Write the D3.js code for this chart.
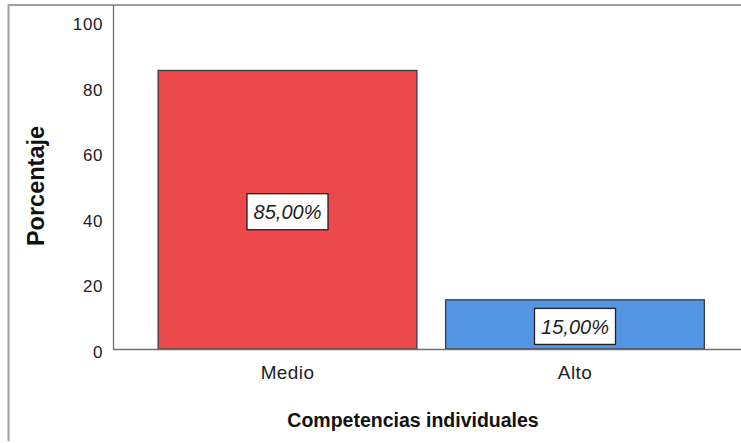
<!DOCTYPE html>
<html>
<head>
<meta charset="utf-8">
<script src="https://cdn.jsdelivr.net/npm/d3@7"></script>
<style>
  html, body { margin: 0; padding: 0; background: #fff; }
  svg { display: block; font-family: "Liberation Sans", Arial, sans-serif; }
</style>
</head>
<body>
<svg id="chart" width="741" height="443"></svg>
<script>
const categories = ["Medio", "Alto"];
const values = [85, 15];
const labels = ["85,00%", "15,00%"];
const colors = ["#EC494C", "#5394E3"];
const yTicks = [0, 20, 40, 60, 80, 100];
const xTitle = "Competencias individuales";
const yTitle = "Porcentaje";

const svg = d3.select("#chart");
const W = 741, H = 443;
const x0 = 113, yBase = 349, yTop = 21.3;
const FONT = "Liberation Sans, Arial, sans-serif";

// outer frame (top and left)
svg.append("line").attr("x1", 8.5).attr("x2", W).attr("y1", 5).attr("y2", 5)
  .attr("stroke", "#a0a0a0").attr("stroke-width", 2);
svg.append("line").attr("x1", 8.5).attr("x2", 8.5).attr("y1", 4).attr("y2", 441)
  .attr("stroke", "#a0a0a0").attr("stroke-width", 2);

const x = d3.scaleBand().domain(categories).range([143.75, 718.75])
  .paddingInner(0.1).paddingOuter(0.05);
const y = d3.scaleLinear().domain([0, 100]).range([yBase, yTop]);

// bars
svg.selectAll("rect.bar").data(categories).enter().append("rect")
  .attr("class", "bar")
  .attr("x", d => x(d))
  .attr("width", x.bandwidth())
  .attr("y", (d, i) => y(values[i]))
  .attr("height", (d, i) => y(0) - y(values[i]))
  .attr("fill", (d, i) => colors[i])
  .attr("stroke", "#3a3a3a").attr("stroke-width", 1.3);

// axes lines
svg.append("line").attr("x1", x0 + 0.5).attr("x2", x0 + 0.5).attr("y1", 5).attr("y2", yBase + 0.5)
  .attr("stroke", "#707070").attr("stroke-width", 1.3);
svg.append("line").attr("x1", x0).attr("x2", W).attr("y1", yBase + 0.5).attr("y2", yBase + 0.5)
  .attr("stroke", "#707070").attr("stroke-width", 1.3);

// y axis
const yAxis = d3.axisLeft(y).tickValues(yTicks).tickSize(0).tickPadding(10);
const gy = svg.append("g").attr("transform", `translate(${x0},3)`).call(yAxis);
gy.select(".domain").remove();
gy.selectAll("text").attr("font-size", 17).attr("fill", "#222")
  .attr("font-family", FONT).attr("letter-spacing", 0.6);

// x axis
const xAxis = d3.axisBottom(x).tickSize(0).tickPadding(17);
const gx = svg.append("g").attr("transform", `translate(0,${yBase})`).call(xAxis);
gx.select(".domain").remove();
gx.selectAll("text").attr("font-size", 19).attr("fill", "#222")
  .attr("font-family", FONT).attr("letter-spacing", 0.4);

// value labels
const lab = svg.selectAll("g.lab").data(categories).enter().append("g")
  .attr("class", "lab")
  .attr("transform", (d, i) => `translate(${x(d) + x.bandwidth() / 2},${(y(values[i]) + y(0)) / 2 + 2})`);
lab.append("rect").attr("x", -40.5).attr("y", -18).attr("width", 81).attr("height", 36)
  .attr("fill", "#fff").attr("stroke", "#222").attr("stroke-width", 1.3);
lab.append("text").text((d, i) => labels[i])
  .attr("text-anchor", "middle").attr("dy", "0.36em")
  .attr("font-size", 20).attr("font-style", "italic").attr("fill", "#222");

// titles
svg.append("text").text(xTitle)
  .attr("x", 413).attr("y", 427).attr("text-anchor", "middle")
  .attr("font-size", 19.5).attr("font-weight", "bold").attr("fill", "#111");
svg.append("text").text(yTitle)
  .attr("transform", "translate(43.5,186) rotate(-90)").attr("text-anchor", "middle")
  .attr("font-size", 23.5).attr("font-weight", "bold").attr("fill", "#111");
</script>
</body>
</html>
